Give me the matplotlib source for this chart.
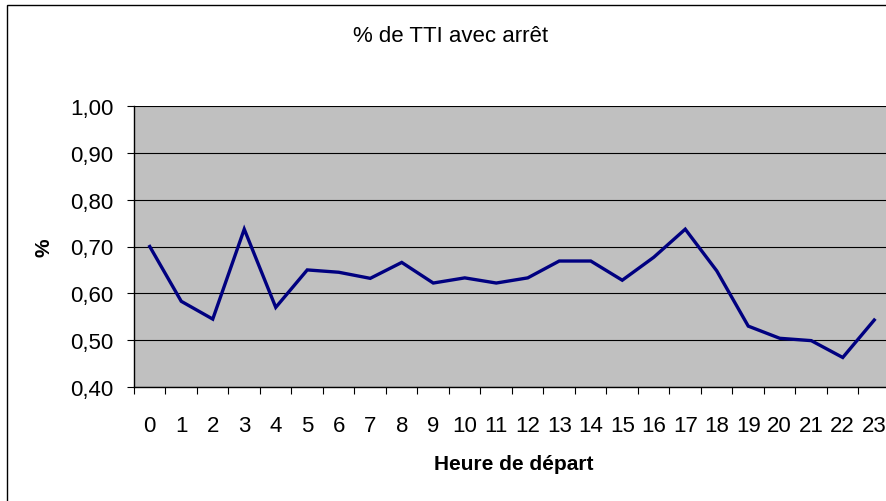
"""% de TTI avec arrêt -- line chart by departure hour."""
import matplotlib
matplotlib.use("Agg")
import matplotlib.pyplot as plt
from matplotlib.patches import Rectangle
from matplotlib.ticker import FixedLocator, FuncFormatter

plt.rcParams["font.family"] = ["Liberation Sans", "DejaVu Sans"]

hours = list(range(24))
share = [0.70, 0.583, 0.545, 0.737, 0.570, 0.650, 0.645, 0.632, 0.666, 0.622,
         0.633, 0.622, 0.633, 0.669, 0.669, 0.628, 0.677, 0.737, 0.648, 0.530,
         0.504, 0.499, 0.463, 0.543]
yticks = [0.40, 0.50, 0.60, 0.70, 0.80, 0.90, 1.00]

W, H = 887, 502
fig = plt.figure(figsize=(W / 100, H / 100), dpi=100)
ax = fig.add_axes([134 / W, 1 - 388 / H, 756 / W, 281 / H])

# outer chart frame (cropped on right and bottom)
fig.patches.append(Rectangle((7 / W, -0.1), 1.2, 1 - 6 / H + 0.1, transform=fig.transFigure,
                             fill=False, edgecolor="black", lw=1.0))

ax.set_facecolor("#C0C0C0")
ax.plot(hours, share, color="#000080", lw=2.4, solid_joinstyle="miter", zorder=3)

ax.set_xlim(-0.5, 23.5)
ax.set_ylim(0.40, 1.00)
ax.set_yticks(yticks)
ax.yaxis.set_major_formatter(FuncFormatter(lambda v, p: f"{v:.2f}".replace(".", ",")))
ax.grid(axis="y", color="black", lw=0.8)

ax.set_xticks(hours)
ax.set_xticklabels([str(h) for h in hours])
ax.xaxis.set_minor_locator(FixedLocator([h - 0.5 for h in hours] + [23.5]))
ax.tick_params(axis="x", which="major", length=0, pad=20, labelsize=16)
ax.tick_params(axis="x", which="minor", length=5, width=0.8, direction="out")
ax.tick_params(axis="y", length=5, width=0.8, direction="out", pad=10, labelsize=16)

for s in ["top", "right"]:
    ax.spines[s].set_visible(False)
for s in ["left", "bottom"]:
    ax.spines[s].set_linewidth(1.0)

fig.text(451 / W, 1 - 36 / H, "% de TTI avec arrêt", ha="center", va="center", fontsize=16)
fig.text(514 / W, 1 - 465 / H, "Heure de départ", ha="center", va="center",
         fontsize=15, fontweight="bold")
fig.text(44 / W, 1 - 247.5 / H, "%", ha="center", va="center", rotation=90,
         fontsize=15, fontweight="bold")

plt.savefig("out.png", dpi=100)
plt.close()
